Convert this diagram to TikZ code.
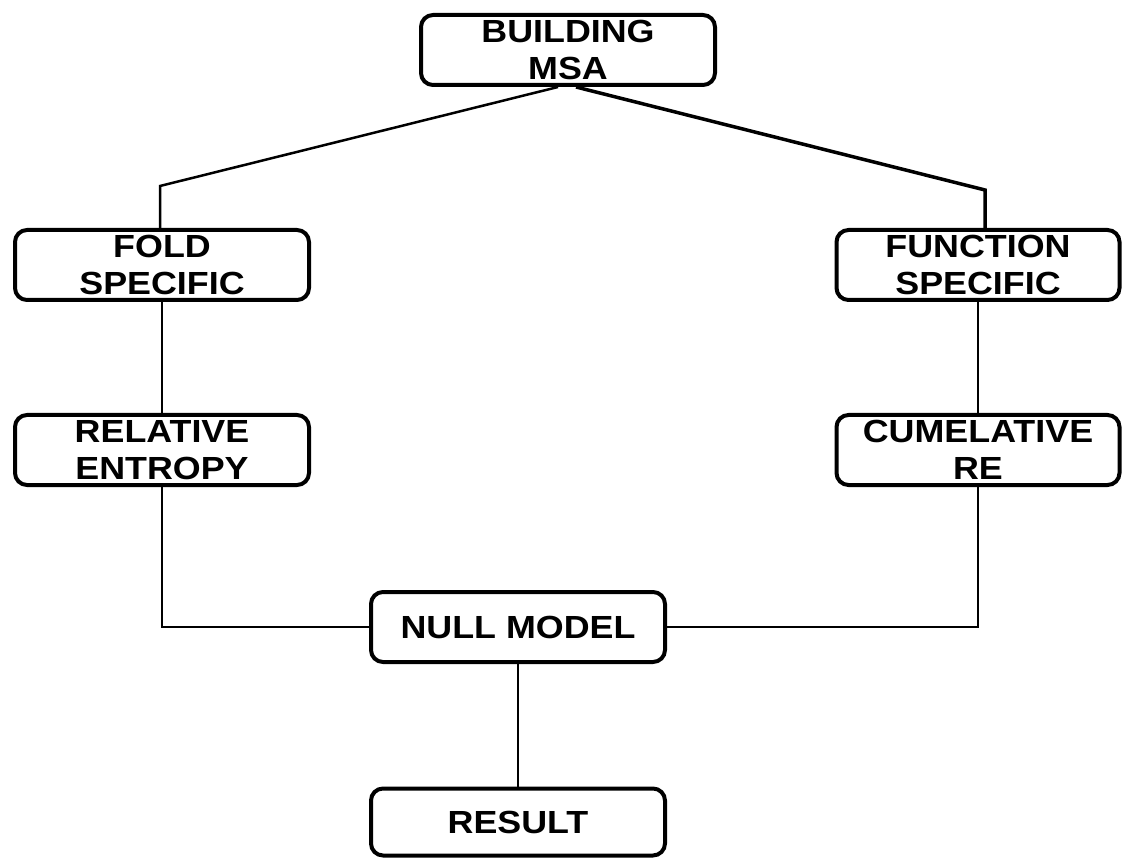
\documentclass[tikz,border=0pt]{standalone}
\usepackage{fontspec}
\newfontfamily\boxfont[FakeStretch=1.12]{Liberation Sans}
\usetikzlibrary{positioning}

\tikzset{
	stage/.style={draw, rounded corners=12pt, line width=4pt,
		minimum width=294pt, minimum height=70pt, inner sep=0pt,
		align=center, font=\boxfont\bfseries\fontsize{32}{37}\selectfont},
	link/.style={line width=2.5pt}
}

\begin{document}
\begin{tikzpicture}[x=1pt, y=-1pt]
	% Fix the page to the reference size
	\useasboundingbox (0,0) rectangle (1122,858);

	% Top box
	\node[stage] (msa) at (568,50) {BUILDING\\MSA};

	% Left branch
	\node[stage] (fold) at (162,265) {FOLD\\SPECIFIC};
	\node[stage] (relent) at (162,450) {RELATIVE\\ENTROPY};

	% Right branch
	\node[stage, minimum width=283pt] (func) at (978,265) {FUNCTION\\SPECIFIC};
	\node[stage, minimum width=283pt] (cumre) at (978,450) {CUMELATIVE\\RE};

	% Bottom boxes
	\node[stage] (null) at (518,627) {NULL MODEL};
	\node[stage, minimum height=67pt] (result) at (518,822) {RESULT};

	% Kinks of the two diagonal links
	\coordinate (lkink) at (160,186);
	\coordinate (rkink) at (985,190);

	% Links from the top box
	\draw[link] ([xshift=-10pt]msa.south) -- (lkink) -- (lkink |- fold.north);
	\draw[link, line width=3.5pt] ([xshift=8pt]msa.south) -- (rkink) -- (rkink |- func.north);

	% Straight links down each side
	\draw[link] (fold.south) -- (relent.north);
	\draw[link] (func.south) -- (cumre.north);

	% Links into the null model
	\draw[link] (relent.south) -- (relent.south |- null.west) -- (null.west);
	\draw[link] (cumre.south) -- (cumre.south |- null.east) -- (null.east);

	% Last step
	\draw[link] (null.south) -- (result.north);
\end{tikzpicture}
\end{document}
